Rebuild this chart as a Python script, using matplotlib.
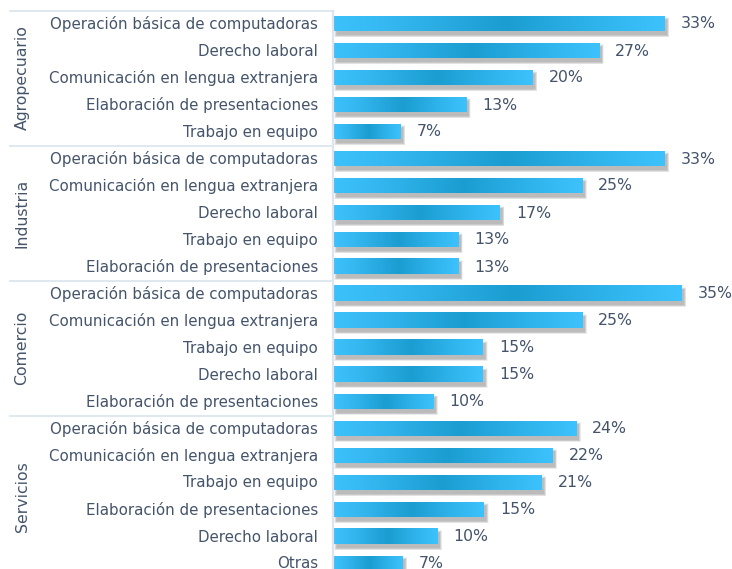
import matplotlib
matplotlib.use("Agg")
import matplotlib.pyplot as plt
import numpy as np
from matplotlib.colors import LinearSegmentedColormap
from matplotlib.patches import Rectangle
from matplotlib.lines import Line2D

# ---------------- data ----------------
groups = ["Agropecuario", "Industria", "Comercio", "Servicios"]

agro_labels = ["Operación básica de computadoras", "Derecho laboral",
               "Comunicación en lengua extranjera", "Elaboración de presentaciones",
               "Trabajo en equipo"]
agro_values = [33.3, 26.7, 20.0, 13.3, 6.7]

ind_labels = ["Operación básica de computadoras", "Comunicación en lengua extranjera",
              "Derecho laboral", "Trabajo en equipo", "Elaboración de presentaciones"]
ind_values = [33.3, 25.0, 16.7, 12.5, 12.5]

com_labels = ["Operación básica de computadoras", "Comunicación en lengua extranjera",
              "Trabajo en equipo", "Derecho laboral", "Elaboración de presentaciones"]
com_values = [35.0, 25.0, 15.0, 15.0, 10.0]

serv_labels = ["Operación básica de computadoras", "Comunicación en lengua extranjera",
               "Trabajo en equipo", "Elaboración de presentaciones", "Derecho laboral",
               "Otras"]
serv_values = [24.4, 22.0, 20.9, 15.1, 10.4, 6.9]

group_labels = [agro_labels, ind_labels, com_labels, serv_labels]
group_values = [agro_values, ind_values, com_values, serv_values]

# ---------------- style ----------------
W, H = 732, 569
TEXT = "#44546A"
LINE = "#DCE5EE"
FONT = "DejaVu Sans"
row0_px, row_step = 24.0, 27.0
x0_px, px_per_pct = 334.0, 9.93
top_px = 10.5

fig = plt.figure(figsize=(W / 100, H / 100), dpi=100)
ax_h_px = H - top_px
ax = fig.add_axes([x0_px / W, 0, (W - x0_px) / W, ax_h_px / H])
ymin = -(row0_px - top_px) / row_step
ymax = (H - row0_px) / row_step
ax.axis("off")

cmap = LinearSegmentedColormap.from_list(
    "bar", [(0.0, "#3CC1FB"), (0.15, "#36B9F2"), (0.52, "#1B9DD1"),
            (0.8, "#2FB4EC"), (1.0, "#3DC2FD")])
grad = np.linspace(0, 1, 256).reshape(1, -1)

bar_h = 15.0 / row_step
dy = 1.0 / row_step   # one pixel in y data units
dx = 1.0 / px_per_pct # one pixel in x data units

row = 0
for gi, (labs, vals) in enumerate(zip(group_labels, group_values)):
    start = row
    for lab, v in zip(labs, vals):
        # soft (blurred) shadow
        for k in range(0, 8):
            ax.add_patch(Rectangle((dx * (2.5 - 0.3 * k), row - bar_h / 2 + dy * (3.0 - 0.3 * k)),
                                   v + dx * (0.6 * k), bar_h + dy * (0.6 * k + 0.5),
                                   facecolor="#404040", edgecolor="none",
                                   alpha=0.05, zorder=1))
        ax.imshow(grad, cmap=cmap, aspect="auto", interpolation="bicubic",
                  extent=[0, v, row + bar_h / 2, row - bar_h / 2], zorder=2)
        ax.annotate(f"{int(v + 0.5)}%", xy=(v, row), xytext=(16, 0),
                    textcoords="offset pixels", va="center", ha="left",
                    fontsize=11.3, color=TEXT, family=FONT, annotation_clip=False)
        fig.text(318 / W, 1 - (row0_px + row * row_step) / H, lab,
                 ha="right", va="center", fontsize=10.85, color=TEXT, family=FONT)
        row += 1
    end = row - 1
    cy = row0_px + (start + end) / 2 * row_step
    fig.text(22 / W, 1 - cy / H, groups[gi], rotation=90, ha="center",
             va="center", fontsize=11.3, color=TEXT, family=FONT)
    # separator line above the group
    ysep = row0_px + (start - 0.5) * row_step
    fig.add_artist(Line2D([10 / W, 333 / W], [1 - ysep / H, 1 - ysep / H],
                          color=LINE, lw=1.3))

ax.set_xlim(0, (W - x0_px) / px_per_pct)
ax.set_ylim(ymax, ymin)

# vertical axis line
fig.add_artist(Line2D([333 / W, 333 / W], [0, 1 - top_px / H], color=LINE, lw=1.6))

fig.savefig("out.png", dpi=100)
